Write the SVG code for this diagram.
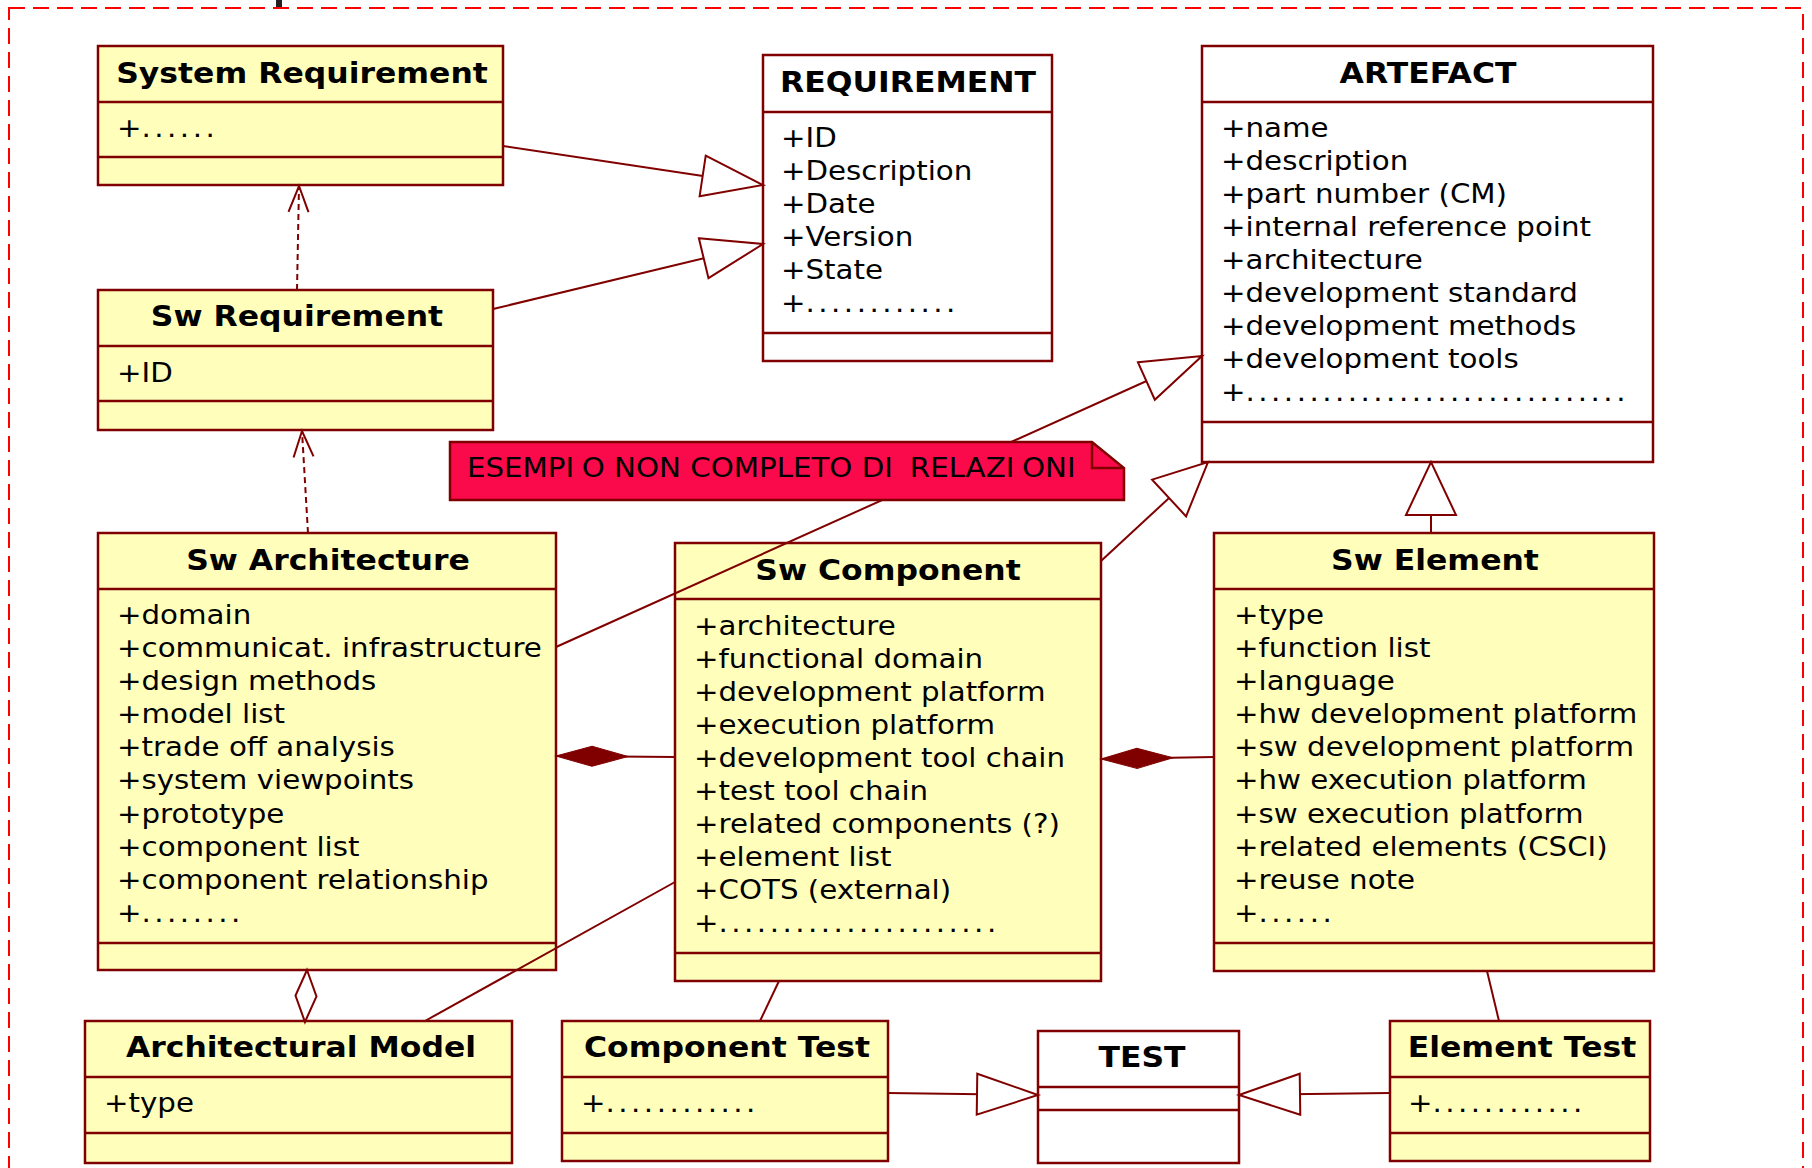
<svg xmlns="http://www.w3.org/2000/svg" width="1812" height="1168" viewBox="0 0 1812 1168">
<defs>
<style>
.box{fill:#FFFFBB;stroke:#800000;stroke-width:2.5}
.wbox{fill:#FFFFFF;stroke:#800000;stroke-width:2.5}
.div{stroke:#800000;stroke-width:2.5;fill:none}
.t{font-family:"DejaVu Sans","Liberation Sans",sans-serif;font-weight:bold;font-size:29px;fill:#000;text-anchor:middle}
.a{font-family:"DejaVu Sans","Liberation Sans",sans-serif;font-size:27px;fill:#000}
.dots{letter-spacing:3.2px}
.ln{stroke:#800000;stroke-width:2;fill:none}
.dep{stroke:#800000;stroke-width:2;fill:none;stroke-dasharray:6 4}
.note{fill:#FA0A4A;stroke:#800000;stroke-width:2.5}
</style>
<marker id="genH" markerUnits="userSpaceOnUse" markerWidth="70" markerHeight="50" refX="62" refY="22" orient="auto" overflow="visible">
<path d="M1,1.5 L62,22 L1,42.5 Z" fill="#FFFFFF" stroke="#800000" stroke-width="2"/>
</marker>
<marker id="genV" markerUnits="userSpaceOnUse" markerWidth="60" markerHeight="54" refX="53" refY="25" orient="auto" overflow="visible">
<path d="M0,0 L53,25 L0,50 Z" fill="#FFFFFF" stroke="#800000" stroke-width="2"/>
</marker>
<marker id="open" markerUnits="userSpaceOnUse" markerWidth="30" markerHeight="24" refX="26" refY="10" orient="auto" overflow="visible">
<path d="M0,0 L26,10 L0,20" fill="none" stroke="#800000" stroke-width="2"/>
</marker>
<marker id="comp" markerUnits="userSpaceOnUse" markerWidth="74" markerHeight="22" refX="0" refY="10" orient="auto" overflow="visible">
<path d="M0,10 L36,0 L72,10 L36,20 Z" fill="#800000" stroke="#800000" stroke-width="1"/>
</marker>
<marker id="agg" markerUnits="userSpaceOnUse" markerWidth="56" markerHeight="24" refX="0" refY="10.5" orient="auto" overflow="visible">
<path d="M0,10.5 L26,0 L52,10.5 L26,21 Z" fill="#FFFFFF" stroke="#800000" stroke-width="2"/>
</marker>
</defs>
<rect x="0" y="0" width="1812" height="1168" fill="#FFFFFF"/>
<rect x="9" y="8" width="1794" height="1200" fill="none" stroke="#FF0000" stroke-width="2" stroke-dasharray="16 8"/>
<rect x="276" y="0" width="6" height="7" fill="#222222"/>

<g id="sysreq">
<rect class="box" x="98" y="46" width="405" height="139"/>
<path class="div" d="M98,102 H503 M98,157 H503"/>
<text class="t" transform="translate(302,83) scale(1.085,1)">System Requirement</text>
<text class="a" transform="translate(117,137) scale(1.085,1)">+<tspan class="dots">......</tspan></text>
</g>

<g id="requirement">
<rect class="wbox" x="763" y="55" width="289" height="306"/>
<path class="div" d="M763,112 H1052 M763,333 H1052"/>
<text class="t" transform="translate(908,92) scale(1.085,1)">REQUIREMENT</text>
<text class="a" transform="translate(781,147) scale(1.085,1)"><tspan x="0" y="0">+ID</tspan><tspan x="0" y="33">+Description</tspan><tspan x="0" y="66">+Date</tspan><tspan x="0" y="99">+Version</tspan><tspan x="0" y="132">+State</tspan><tspan x="0" y="165">+<tspan class="dots">............</tspan></tspan></text>
</g>

<g id="artefact">
<rect class="wbox" x="1202" y="46" width="451" height="416"/>
<path class="div" d="M1202,102 H1653 M1202,422 H1653"/>
<text class="t" transform="translate(1428,83) scale(1.085,1)">ARTEFACT</text>
<text class="a" transform="translate(1221,137) scale(1.085,1)"><tspan x="0" y="0">+name</tspan><tspan x="0" y="33">+description</tspan><tspan x="0" y="66">+part number (CM)</tspan><tspan x="0" y="99">+internal reference point</tspan><tspan x="0" y="132">+architecture</tspan><tspan x="0" y="165">+development standard</tspan><tspan x="0" y="198">+development methods</tspan><tspan x="0" y="231">+development tools</tspan><tspan x="0" y="264">+<tspan class="dots">..............................</tspan></tspan></text>
</g>

<g id="swreq">
<rect class="box" x="98" y="290" width="395" height="140"/>
<path class="div" d="M98,346 H493 M98,401 H493"/>
<text class="t" transform="translate(297,326) scale(1.085,1)">Sw Requirement</text>
<text class="a" transform="translate(117,382) scale(1.085,1)">+ID</text>
</g>

<g id="swarch">
<rect class="box" x="98" y="533" width="458" height="437"/>
<path class="div" d="M98,589 H556 M98,943 H556"/>
<text class="t" transform="translate(328,570) scale(1.085,1)">Sw Architecture</text>
<text class="a" transform="translate(117,624) scale(1.085,1)"><tspan x="0" y="0">+domain</tspan><tspan x="0" y="33.1">+communicat. infrastructure</tspan><tspan x="0" y="66.2">+design methods</tspan><tspan x="0" y="99.3">+model list</tspan><tspan x="0" y="132.4">+trade off analysis</tspan><tspan x="0" y="165.5">+system viewpoints</tspan><tspan x="0" y="198.6">+prototype</tspan><tspan x="0" y="231.7">+component list</tspan><tspan x="0" y="264.8">+component relationship</tspan><tspan x="0" y="297.9">+<tspan class="dots">........</tspan></tspan></text>
</g>

<g id="swcomp">
<rect class="box" x="675" y="543" width="426" height="438"/>
<path class="div" d="M675,599 H1101 M675,953 H1101"/>
<text class="t" transform="translate(888,580) scale(1.085,1)">Sw Component</text>
<text class="a" transform="translate(694,635) scale(1.085,1)"><tspan x="0" y="0">+architecture</tspan><tspan x="0" y="33">+functional domain</tspan><tspan x="0" y="66">+development platform</tspan><tspan x="0" y="99">+execution platform</tspan><tspan x="0" y="132">+development tool chain</tspan><tspan x="0" y="165">+test tool chain</tspan><tspan x="0" y="198">+related components (?)</tspan><tspan x="0" y="231">+element list</tspan><tspan x="0" y="264">+COTS (external)</tspan><tspan x="0" y="297">+<tspan class="dots">......................</tspan></tspan></text>
</g>

<g id="swelem">
<rect class="box" x="1214" y="533" width="440" height="438"/>
<path class="div" d="M1214,589 H1654 M1214,943 H1654"/>
<text class="t" transform="translate(1435,570) scale(1.085,1)">Sw Element</text>
<text class="a" transform="translate(1234,624) scale(1.085,1)"><tspan x="0" y="0">+type</tspan><tspan x="0" y="33.1">+function list</tspan><tspan x="0" y="66.2">+language</tspan><tspan x="0" y="99.3">+hw development platform</tspan><tspan x="0" y="132.4">+sw development platform</tspan><tspan x="0" y="165.5">+hw execution platform</tspan><tspan x="0" y="198.6">+sw execution platform</tspan><tspan x="0" y="231.7">+related elements (CSCI)</tspan><tspan x="0" y="264.8">+reuse note</tspan><tspan x="0" y="297.9">+<tspan class="dots">......</tspan></tspan></text>
</g>

<g id="archmodel">
<rect class="box" x="85" y="1021" width="427" height="142"/>
<path class="div" d="M85,1077 H512 M85,1133 H512"/>
<text class="t" transform="translate(301,1057) scale(1.085,1)">Architectural Model</text>
<text class="a" transform="translate(104,1112) scale(1.085,1)">+type</text>
</g>

<g id="comptest">
<rect class="box" x="562" y="1021" width="326" height="140"/>
<path class="div" d="M562,1077 H888 M562,1133 H888"/>
<text class="t" transform="translate(727,1057) scale(1.085,1)">Component Test</text>
<text class="a" transform="translate(581,1112) scale(1.085,1)">+<tspan class="dots">............</tspan></text>
</g>

<g id="test">
<rect class="wbox" x="1038" y="1031" width="201" height="132"/>
<path class="div" d="M1038,1087 H1239 M1038,1110 H1239"/>
<text class="t" transform="translate(1142,1067) scale(1.085,1)">TEST</text>
</g>

<g id="elemtest">
<rect class="box" x="1390" y="1021" width="260" height="140"/>
<path class="div" d="M1390,1077 H1650 M1390,1133 H1650"/>
<text class="t" transform="translate(1522,1057) scale(1.085,1)">Element Test</text>
<text class="a" transform="translate(1408,1112) scale(1.085,1)">+<tspan class="dots">............</tspan></text>
</g>

<g id="connectors">
<path class="ln" d="M503,146 L763,185" marker-end="url(#genH)"/>
<path class="ln" d="M493,309 L763,244" marker-end="url(#genH)"/>
<path class="ln" d="M556,647 L1202,356" marker-end="url(#genH)"/>
<path class="ln" d="M1101,561 L1208,462" marker-end="url(#genV)"/>
<path class="ln" d="M1431,533 L1431,462" marker-end="url(#genV)"/>
<path class="dep" d="M297,290 L299,186" marker-end="url(#open)"/>
<path class="dep" d="M308,533 L302,431" marker-end="url(#open)"/>
<path class="ln" d="M556,756 L675,757" marker-start="url(#comp)"/>
<path class="ln" d="M1101,759 L1214,757" marker-start="url(#comp)"/>
<path class="ln" d="M307,970 L305,1021" marker-start="url(#agg)"/>
<path class="ln" d="M675,882 L425,1021"/>
<path class="ln" d="M779,981 L760,1021"/>
<path class="ln" d="M1487,971 L1499,1021"/>
<path class="ln" d="M888,1093 L1038,1095" marker-end="url(#genH)"/>
<path class="ln" d="M1390,1093 L1239,1095" marker-end="url(#genH)"/>
</g>

<g id="note">
<path class="note" d="M450,442 H1092 L1124,468 V500 H450 Z"/>
<path class="div" d="M1092,442 V468 H1124"/>
<text class="a" transform="translate(467,477) scale(1.085,1)">ESEMPI<tspan dx="7">O NON COMPLETO DI</tspan><tspan dx="7"> RELAZI</tspan><tspan dx="7">ONI</tspan></text>
</g>
</svg>
